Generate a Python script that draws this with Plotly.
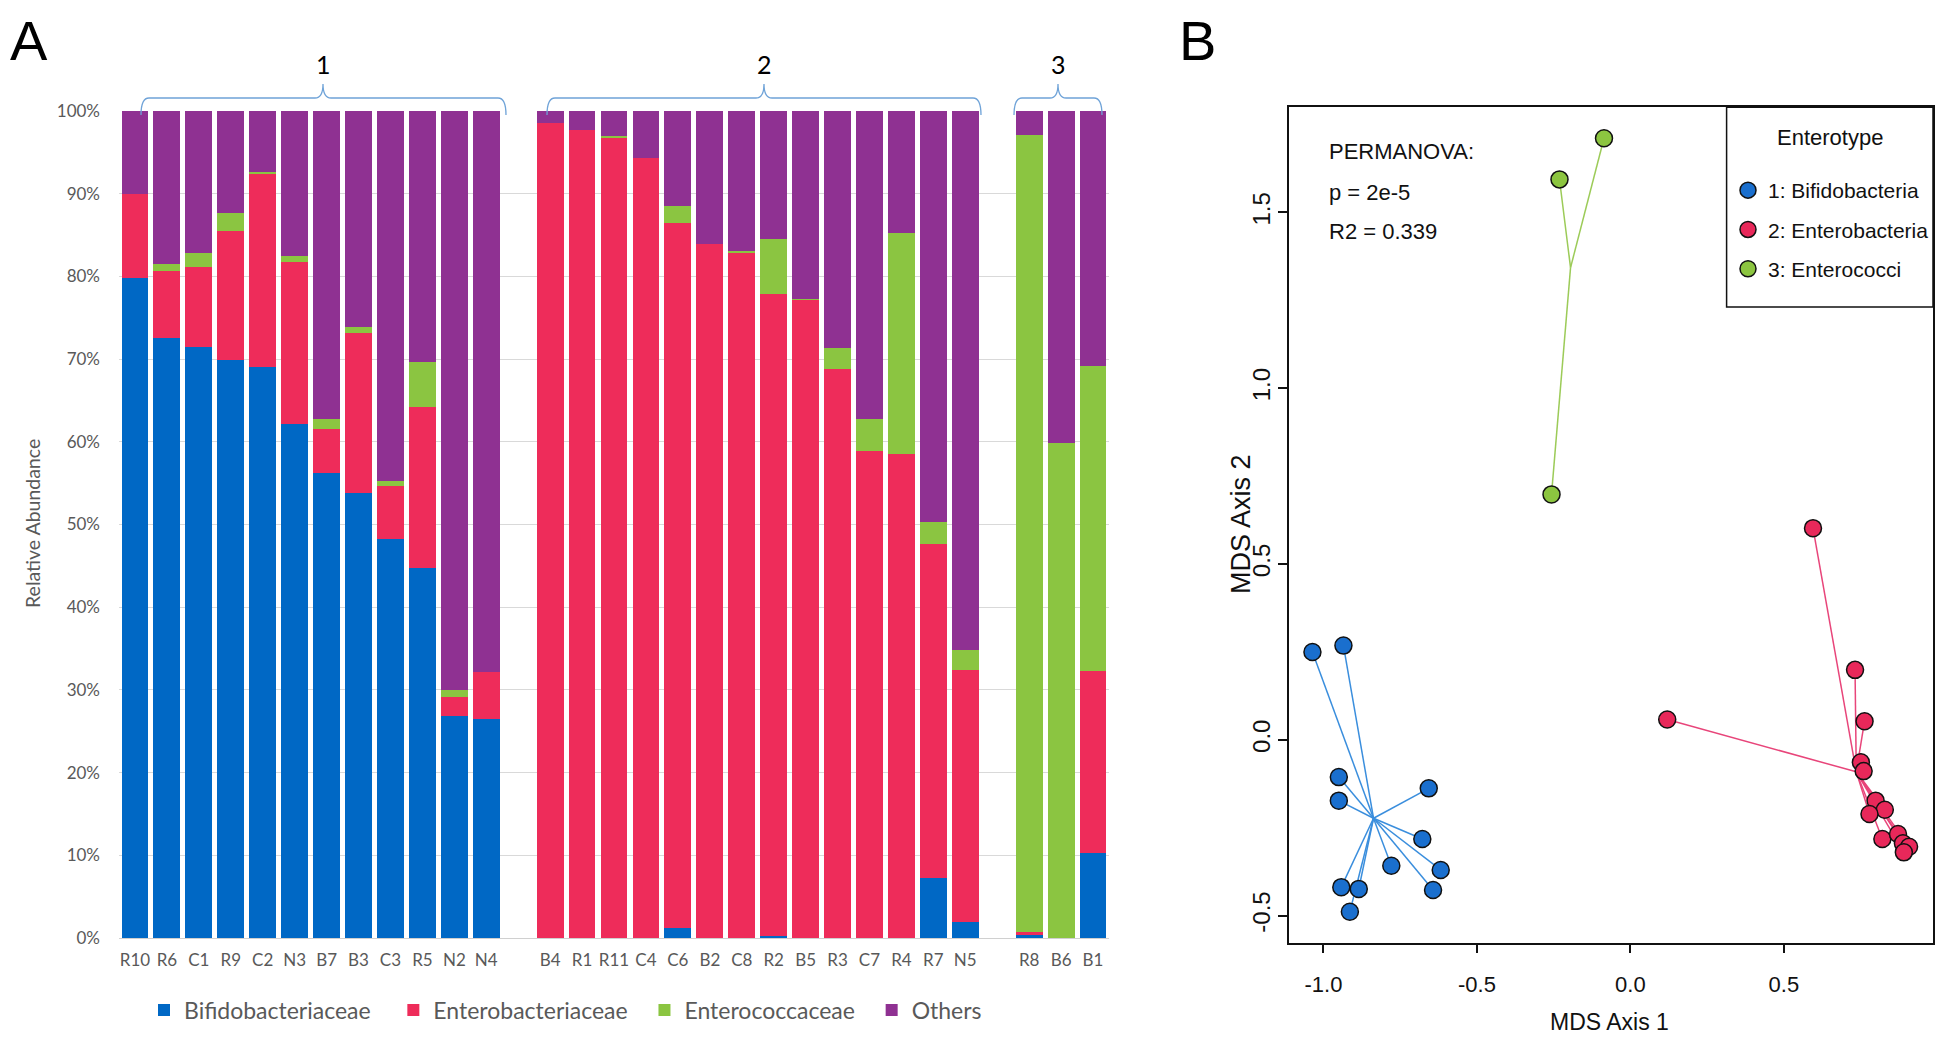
import plotly.graph_objects as go

W, H = 1950, 1055
PAD = 8  # page body margin, the figure is drawn inside it

# ---- panel A: relative abundance per sample (percent) ----
group1_samples = ["R10", "R6", "C1", "R9", "C2", "N3", "B7", "B3", "C3", "R5", "N2", "N4"]
group2_samples = ["B4", "R1", "R11", "C4", "C6", "B2", "C8", "R2", "B5", "R3", "C7", "R4", "R7", "N5"]
group3_samples = ["R8", "B6", "B1"]

bifido_1 = [79.8, 72.6, 71.5, 69.9, 69.0, 62.2, 56.2, 53.8, 48.2, 44.7, 26.8, 26.5]
entero_1 = [10.2, 8.1, 9.6, 15.6, 23.4, 19.5, 5.4, 19.4, 6.4, 19.5, 2.4, 5.7]
entcoc_1 = [0.0, 0.8, 1.7, 2.2, 0.2, 0.8, 1.1, 0.7, 0.7, 5.5, 0.8, 0.0]
others_1 = [10.0, 18.5, 17.2, 12.3, 7.4, 17.5, 37.3, 26.1, 44.7, 30.3, 70.0, 67.8]

bifido_2 = [0, 0, 0, 0, 1.2, 0, 0, 0.3, 0, 0, 0, 0, 7.2, 1.9]
entero_2 = [98.6, 97.7, 96.8, 94.3, 85.3, 83.9, 82.9, 77.6, 77.2, 68.8, 58.9, 58.5, 40.4, 30.5]
entcoc_2 = [0, 0, 0.2, 0, 2.0, 0, 0.2, 6.6, 0.1, 2.5, 3.9, 26.8, 2.7, 2.4]
others_2 = [1.4, 2.3, 3.0, 5.7, 11.5, 16.1, 16.9, 15.5, 22.7, 28.7, 37.2, 14.7, 49.7, 65.2]

bifido_3 = [0.4, 0, 10.3]
entero_3 = [0.3, 0, 22.0]
entcoc_3 = [96.4, 59.8, 36.9]
others_3 = [2.9, 40.2, 30.8]

family_names = ["Bifidobacteriaceae", "Enterobacteriaceae", "Enterococcaceae", "Others"]
family_colors = ["#0068C5", "#EE2C5A", "#8BC541", "#8F3192"]
group_labels = ["1", "2", "3"]

# ---- panel B: MDS coordinates per enterotype ----
bifido_mds_x = [-1.036, -0.935, -0.950, -0.950, -0.657, -0.678, -0.779, -0.618, -0.643, -0.942, -0.885, -0.914]
bifido_mds_y = [0.250, 0.268, -0.106, -0.173, -0.138, -0.282, -0.358, -0.370, -0.427, -0.419, -0.424, -0.489]
entero_mds_x = [0.595, 0.732, 0.763, 0.120, 0.751, 0.760, 0.799, 0.829, 0.779, 0.821, 0.872, 0.888, 0.908, 0.891]
entero_mds_y = [0.602, 0.199, 0.053, 0.058, -0.064, -0.089, -0.173, -0.199, -0.211, -0.282, -0.268, -0.294, -0.304, -0.320]
entcoc_mds_x = [-0.086, -0.231, -0.257]
entcoc_mds_y = [1.711, 1.594, 0.698]
centroids_x = [-0.837, 0.736, -0.195]
centroids_y = [-0.223, -0.091, 1.343]

enterotype_names = ["1: Bifidobacteria", "2: Enterobacteria", "3: Enterococci"]
enterotype_colors = ["#1A6FCE", "#E8285A", "#8CC540"]
spider_colors = ["#3A8EDD", "#E8457A", "#9CCB58"]
mds_ticks = [-1.0, -0.5, 0.0, 0.5, 1.0, 1.5]
mds_ticktext = ["-1.0", "-0.5", "0.0", "0.5", "1.0", "1.5"]

RFONT = "Liberation Sans, Arial, sans-serif"
EXCEL = "Lato, Open Sans, sans-serif"
legend_pad = [3, 2, 2, 0]  # non-breaking spaces after each bar legend entry

FW, FH = W - 2 * PAD, H - 2 * PAD


def px_x(p):
    return (p - PAD) / FW


def px_y(p):
    return 1 - (p - PAD) / FH


fig = go.Figure()

# stacked bars, with one empty slot between the enterotype groups
samples = group1_samples + [" "] + group2_samples + ["  "] + group3_samples
family_values = [
    bifido_1 + [None] + bifido_2 + [None] + bifido_3,
    entero_1 + [None] + entero_2 + [None] + entero_3,
    entcoc_1 + [None] + entcoc_2 + [None] + entcoc_3,
    others_1 + [None] + others_2 + [None] + others_3,
]
for name, color, vals, pad in zip(family_names, family_colors, family_values, legend_pad):
    fig.add_trace(go.Bar(
        x=samples, y=vals, name=name + "\u00a0" * pad,
        marker=dict(color=color, line=dict(width=0)),
        xaxis="x", yaxis="y", legend="legend",
    ))

# spider lines + points
mds_sets = [
    (bifido_mds_x, bifido_mds_y),
    (entero_mds_x, entero_mds_y),
    (entcoc_mds_x, entcoc_mds_y),
]
for i, (xs, ys) in enumerate(mds_sets):
    lx, ly = [], []
    for x, y in zip(xs, ys):
        lx += [centroids_x[i], x, None]
        ly += [centroids_y[i], y, None]
    fig.add_trace(go.Scatter(
        x=lx, y=ly, mode="lines", line=dict(color=spider_colors[i], width=1.5),
        xaxis="x2", yaxis="y2", showlegend=False, hoverinfo="skip",
    ))
for i, (xs, ys) in enumerate(mds_sets):
    fig.add_trace(go.Scatter(
        x=xs, y=ys, mode="markers", name=enterotype_names[i],
        marker=dict(size=17, color=enterotype_colors[i], line=dict(color="#111111", width=1.5)),
        xaxis="x2", yaxis="y2", legend="legend2", legendgroup=str(i),
    ))

# curly brackets over the groups
brackets = [(141, 323, 506), (547, 764, 981), (1014, 1058, 1102)]
shapes = []
for x0, xm, x1 in brackets:
    ytop, yline, yend = 84, 98, 115
    pts = (
        f"M {px_x(x0)},{px_y(yend)} Q {px_x(x0)},{px_y(yline)} {px_x(x0 + 8)},{px_y(yline)} "
        f"L {px_x(xm - 8)},{px_y(yline)} Q {px_x(xm)},{px_y(yline)} {px_x(xm)},{px_y(ytop)} "
        f"Q {px_x(xm)},{px_y(yline)} {px_x(xm + 8)},{px_y(yline)} "
        f"L {px_x(x1 - 8)},{px_y(yline)} Q {px_x(x1)},{px_y(yline)} {px_x(x1)},{px_y(yend)}"
    )
    shapes.append(dict(type="path", path=pts, xref="paper", yref="paper",
                       line=dict(color="#6FA3D8", width=1.3)))
# legend frame of panel B
shapes.append(dict(type="rect", xref="paper", yref="paper",
                   x0=px_x(1726.6), x1=px_x(1933), y0=px_y(307), y1=px_y(107.3),
                   line=dict(color="#111111", width=1.5), fillcolor="rgba(0,0,0,0)"))

annotations = [
    dict(text="A", x=px_x(29), y=1, yanchor="top", borderpad=0,
         font=dict(family=RFONT, size=56, color="black")),
    dict(text="B", x=px_x(1197), y=1, yanchor="top", borderpad=0,
         font=dict(family=RFONT, size=56, color="black")),
    dict(text="Relative Abundance", x=px_x(32), y=px_y(524), textangle=-90,
         font=dict(family=EXCEL, size=19.5, color="#595959")),
    dict(text="PERMANOVA:", x=px_x(1327), y=px_y(151), xanchor="left",
         font=dict(family=RFONT, size=22, color="#111111")),
    dict(text="p = 2e-5", x=px_x(1327), y=px_y(192), xanchor="left",
         font=dict(family=RFONT, size=22, color="#111111")),
    dict(text="R2 = 0.339", x=px_x(1327), y=px_y(231), xanchor="left",
         font=dict(family=RFONT, size=22, color="#111111")),
    dict(text="Enterotype", x=px_x(1830), y=px_y(138),
         font=dict(family=RFONT, size=22, color="#111111")),
    dict(text="MDS Axis 1", x=px_x(1609), y=px_y(1022),
         font=dict(family=RFONT, size=23, color="#111111")),
    dict(text="MDS Axis 2", x=px_x(1241), y=px_y(524), textangle=-90,
         font=dict(family=RFONT, size=27, color="#111111")),
]
for (x0, xm, x1), lab in zip(brackets, group_labels):
    annotations.append(dict(text=lab, x=px_x(xm), y=px_y(64),
                            font=dict(family=EXCEL, size=25, color="black")))
for a in annotations:
    a.update(xref="paper", yref="paper", showarrow=False)
    a.setdefault("xanchor", "center")
    a.setdefault("yanchor", "middle")

fig.update_layout(
    width=FW, height=FH,
    template="none",
    paper_bgcolor="white", plot_bgcolor="white",
    margin=dict(l=0, r=0, t=0, b=0),
    barmode="stack", bargap=0.16,
    xaxis=dict(domain=[px_x(119), px_x(1109)], anchor="y", type="category",
               showgrid=False, zeroline=False, showline=True, linecolor="#D0D0D0", linewidth=1,
               ticks="", ticklabelstandoff=7, automargin=False,
               tickfont=dict(family=EXCEL, size=17, color="#595959")),
    yaxis=dict(domain=[px_y(938), px_y(111)], anchor="x", range=[0, 100], dtick=10,
               ticksuffix="%", showgrid=True, gridcolor="#D9D9D9", gridwidth=1,
               zeroline=False, showline=False, ticks="", ticklabelstandoff=18, automargin=False,
               tickfont=dict(family=EXCEL, size=17, color="#595959")),
    xaxis2=dict(domain=[px_x(1288.5), px_x(1933)], anchor="y2", range=[-1.114, 0.986],
                tickvals=mds_ticks, ticktext=mds_ticktext,
                showgrid=False, zeroline=False, showline=True, mirror=True,
                linecolor="#111111", linewidth=1.5, ticks="outside", ticklen=9, tickwidth=1.5,
                tickcolor="#111111", ticklabelstandoff=12, automargin=False,
                tickfont=dict(family=RFONT, size=22, color="#111111")),
    yaxis2=dict(domain=[px_y(942.7), px_y(107.3)], anchor="x2", range=[-0.577, 1.799],
                tickvals=mds_ticks, ticktext=mds_ticktext, tickangle=-90,
                showgrid=False, zeroline=False, showline=True, mirror=True,
                linecolor="#111111", linewidth=1.5, ticks="outside", ticklen=9, tickwidth=1.5,
                tickcolor="#111111", ticklabelstandoff=-2, automargin=False,
                tickfont=dict(family=RFONT, size=24, color="#111111")),
    legend=dict(orientation="h", x=px_x(144), y=px_y(1010), xanchor="left", yanchor="middle",
                bgcolor="rgba(0,0,0,0)", traceorder="normal",
                font=dict(family=EXCEL, size=23, color="#595959")),
    legend2=dict(x=px_x(1728), y=px_y(170), xanchor="left", yanchor="top",
                 bgcolor="rgba(0,0,0,0)", borderwidth=0, tracegroupgap=9,
                 font=dict(family=RFONT, size=21, color="#111111")),
    shapes=shapes,
    annotations=annotations,
)

fig.write_html("out.html")
